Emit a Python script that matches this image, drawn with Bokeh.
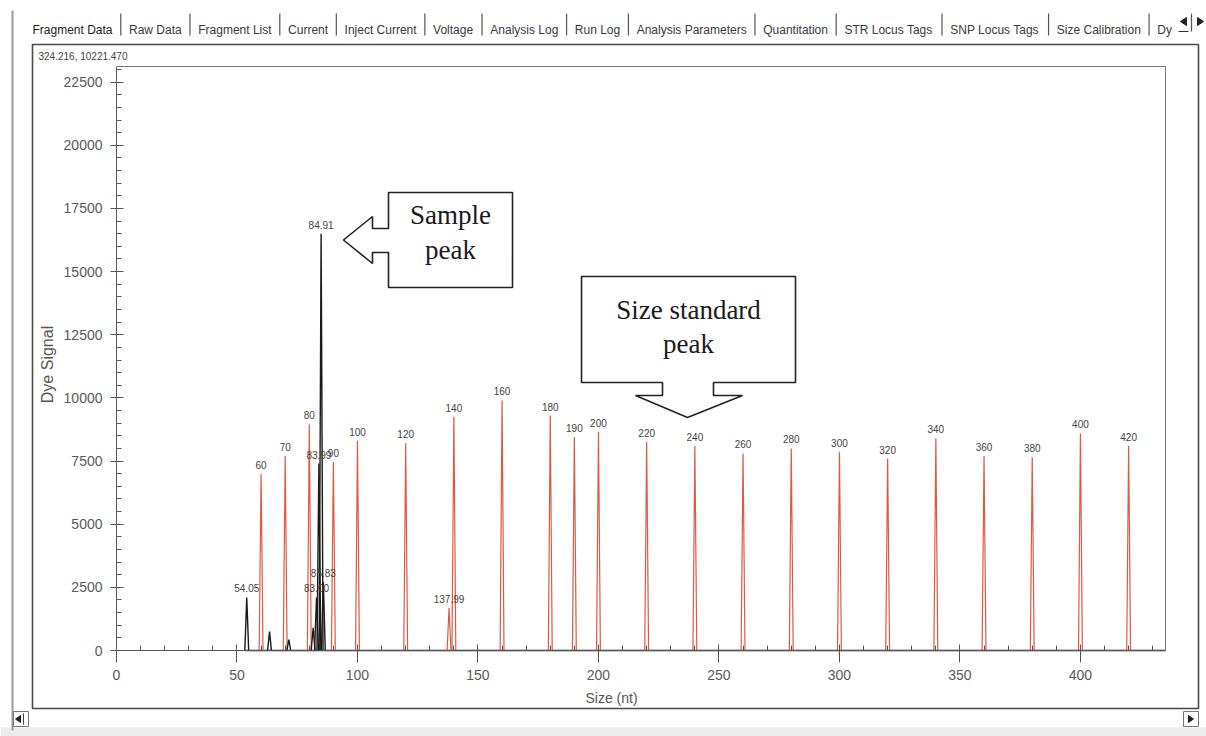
import math
from bokeh.plotting import figure
from bokeh.models import Range1d, Label, PolyAnnotation, FixedTicker
from bokeh.core.properties import value
from bokeh.embed import file_html
from bokeh.resources import INLINE

# ---- data -------------------------------------------------------------
# size-standard (red dye) peaks: fragment size (nt) and signal height
std_sizes = [60, 70, 80, 90, 100, 120, 140, 160, 180, 190, 200, 220,
             240, 260, 280, 300, 320, 340, 360, 380, 400, 420]
std_heights = [7000, 7700, 8950, 7450, 8300, 8200, 9250, 9900, 9300, 8450, 8650, 8250,
               8100, 7800, 8000, 7850, 7600, 8400, 7700, 7650, 8600, 8100]
std_labels = ["60", "70", "80", "90", "100", "120", "140", "160", "180", "190", "200", "220",
              "240", "260", "280", "300", "320", "340", "360", "380", "400", "420"]

# small extra peak in the red dye
extra_std_sizes = [137.99]
extra_std_heights = [1680]
extra_std_labels = ["137.99"]

# sample (black dye) peaks
sample_sizes = [54.05, 63.5, 71.5, 81.6, 83.00, 83.99, 84.91, 85.83]
sample_heights = [2100, 750, 430, 900, 2100, 7400, 16500, 2700]
sample_labels = ["54.05", "", "", "", "83.00", "83.99", "84.91", "85.83"]
trace_start = 53.5

x_ticks = [0, 50, 100, 150, 200, 250, 300, 350, 400]
y_ticks = [0, 2500, 5000, 7500, 10000, 12500, 15000, 17500, 20000, 22500]

cursor_readout = "324.216, 10221.470"
tab_names = ["Fragment Data", "Raw Data", "Fragment List", "Current", "Inject Current",
             "Voltage", "Analysis Log", "Run Log", "Analysis Parameters", "Quantitation",
             "STR Locus Tags", "SNP Locus Tags", "Size Calibration", "Dy"]

# ---- layout constants (pixels) ---------------------------------------
W, H = 1206, 736
FL, FR, FT, FB = 116, 1165, 66, 650          # data area edges on the canvas
X_END = 435.3                                # size at the right edge of the data area
Y_END = 23120.0                              # signal at the top of the data area
PEAK_HW = 0.8                                # half width of a drawn peak, nt

RED = "#dd5a48"
BLACK = "#1a1a1a"
AXIS = "#555555"
SANS = "Liberation Sans"


def sx(px):
    return (px - FL) / (FR - FL) * X_END


def sy(py):
    return (FB - py) / (FB - FT) * Y_END


# the canvas is one frame; the axes sit at fixed data locations inside it
p = figure(width=W, height=H, output_backend="svg", toolbar_location=None,
           x_range=Range1d(sx(0), sx(W)), y_range=Range1d(sy(H), sy(0)),
           min_border=0, min_border_left=0, min_border_right=0,
           min_border_top=0, min_border_bottom=0)
p.background_fill_color = "white"
p.border_fill_color = "white"
p.outline_line_color = None
p.xgrid.visible = False
p.ygrid.visible = False

# axes
p.xaxis.fixed_location = 0
p.yaxis.fixed_location = 0
p.xaxis.bounds = (0, X_END)
p.yaxis.bounds = (0, Y_END)
p.xaxis.ticker = FixedTicker(ticks=x_ticks, minor_ticks=[v for v in range(10, 440, 10)])
p.yaxis.ticker = FixedTicker(ticks=y_ticks, minor_ticks=[v for v in range(500, 23100, 500)])
for ax in (p.xaxis, p.yaxis):
    ax.axis_line_color = AXIS
    ax.axis_line_width = 1
    ax.major_tick_line_color = AXIS
    ax.minor_tick_line_color = AXIS
    ax.major_label_text_font = SANS
    ax.major_label_text_font_size = "14px"
    ax.major_label_text_color = "#5a5a5a"
p.xaxis.major_tick_in = 6
p.xaxis.major_tick_out = 12
p.xaxis.minor_tick_in = 5
p.xaxis.minor_tick_out = 0
p.xaxis.major_label_standoff = 7
p.yaxis.major_tick_in = 7
p.yaxis.major_tick_out = 6
p.yaxis.minor_tick_in = 5
p.yaxis.minor_tick_out = 0
p.yaxis.major_label_standoff = 8


def seg(x0, y0, x1, y1, color="#666666", width=1.0):
    p.add_layout(PolyAnnotation(xs=[sx(x0), sx(x1)], ys=[sy(y0), sy(y1)],
                                fill_alpha=0, line_color=color, line_alpha=1.0,
                                line_width=width))


def rect(l, t, r, b, fill=None, line=None, width=1.0):
    p.add_layout(PolyAnnotation(xs=[sx(l), sx(r), sx(r), sx(l)],
                                ys=[sy(t), sy(t), sy(b), sy(b)],
                                fill_color=fill or "white", fill_alpha=1.0 if fill else 0.0,
                                line_color=line or "white", line_alpha=1.0 if line else 0.0,
                                line_width=width))


# data-area border (top and right edges)
seg(FL, FT, FR, FT, color="#777777", width=1)
seg(FR, FT, FR, FB, color="#777777", width=1)

# ---- traces ------------------------------------------------------------
p.line([trace_start, X_END], [0, 0], line_color=RED, line_width=1)
p.line([trace_start, X_END], [0, 0], line_color=BLACK, line_width=1.5)


def peak_shapes(sizes, heights):
    xs = [[s - PEAK_HW, s, s + PEAK_HW] for s in sizes]
    ys = [[0, h, 0] for h in heights]
    return xs, ys


rx, ry = peak_shapes(std_sizes + extra_std_sizes, std_heights + extra_std_heights)
p.multi_line(rx, ry, line_color=RED, line_width=1.2)
bx, by = peak_shapes(sample_sizes, sample_heights)
p.multi_line(bx, by, line_color=BLACK, line_width=1.4)

# peak labels
lab_x = std_sizes + extra_std_sizes + sample_sizes
lab_y = std_heights + extra_std_heights + sample_heights
lab_t = std_labels + extra_std_labels + sample_labels
p.text(lab_x, lab_y, text=lab_t, text_align="center", text_baseline="bottom",
       y_offset=-5, text_font=value(SANS), text_font_size="10px", text_color="#444444")

# ---- callouts --------------------------------------------------------
sample_box = [(388, 192), (512, 192), (512, 287), (388, 287), (388, 252), (372, 252),
              (372, 263), (343, 239.5), (372, 216), (372, 228), (388, 228)]
std_box = [(581, 276), (795, 276), (795, 382), (713, 382), (713, 395), (742, 395),
           (687, 417), (635, 395), (662, 395), (662, 382), (581, 382)]
for shape in (sample_box, std_box):
    p.add_layout(PolyAnnotation(xs=[sx(a) for a, _ in shape], ys=[sy(b) for _, b in shape],
                                fill_color="white", fill_alpha=1.0,
                                line_color="#222222", line_alpha=1.0, line_width=1.6))

for txt, cx, cy in [("Sample", 450, 214), ("peak", 450, 249),
                    ("Size standard", 688, 309), ("peak", 688, 343)]:
    p.add_layout(Label(x=sx(cx), y=sy(cy), text=txt, text_align="center",
                       text_baseline="middle", text_font="Liberation Serif",
                       text_font_size="27px", text_color="#1a1a1a"))

# ---- axis titles and readout -------------------------------------------
p.add_layout(Label(x=sx(47), y=sy(364), text="Dye Signal", angle=math.pi / 2,
                   text_align="center", text_baseline="middle", text_font=SANS,
                   text_font_size="16px", text_color="#555555"))
p.add_layout(Label(x=sx(611), y=sy(697), text="Size (nt)", text_align="center",
                   text_baseline="middle", text_font=SANS, text_font_size="14px",
                   text_color="#555555"))
p.add_layout(Label(x=sx(38), y=sy(56), text=cursor_readout, text_align="left",
                   text_baseline="middle", text_font=SANS, text_font_size="10px",
                   text_color="#444444"))

# ---- window chrome ---------------------------------------------------
rect(0, 727, W, H, fill="#ececec")
rect(32, 44, 1198, 708, line="#4a4a4a", width=1.6)
seg(12, 10, 12, 730, color="#9a9a9a", width=2)

# tab strip: names placed with Arial advance widths
ADV = {' ': 278, 'a': 556, 'b': 556, 'c': 500, 'd': 556, 'e': 556, 'f': 278, 'g': 556,
       'h': 556, 'i': 222, 'j': 222, 'k': 500, 'l': 222, 'm': 833, 'n': 556, 'o': 556,
       'p': 556, 'q': 556, 'r': 333, 's': 500, 't': 278, 'u': 556, 'v': 500, 'w': 722,
       'x': 500, 'y': 500, 'z': 500, 'A': 667, 'C': 722, 'D': 722, 'F': 611, 'I': 278,
       'L': 556, 'N': 722, 'P': 667, 'Q': 778, 'R': 722, 'S': 667, 'T': 611, 'V': 667}
TAB_FS = 12
TAB_GAP = 16.5
cur = 32
for i, name in enumerate(tab_names):
    p.add_layout(Label(x=sx(cur), y=sy(29.5), text=name, text_align="left",
                       text_baseline="alphabetic", text_font=SANS,
                       text_font_size=f"{TAB_FS}px",
                       text_color="#222222" if i == 0 else "#3a3a3a"))
    cur += sum(ADV.get(c, 556) for c in name) / 1000 * TAB_FS
    if i < len(tab_names) - 1:
        seg(cur + TAB_GAP / 2, 13, cur + TAB_GAP / 2, 35, color="#555555", width=1.2)
        cur += TAB_GAP

# tab scroll arrows
p.add_layout(PolyAnnotation(xs=[sx(1180), sx(1186), sx(1186)], ys=[sy(21), sy(17), sy(25)],
                            fill_color="#222222", fill_alpha=1.0,
                            line_color="#222222", line_alpha=1.0))
seg(1191, 13, 1191, 31, color="#555555", width=1.2)
p.add_layout(PolyAnnotation(xs=[sx(1197), sx(1203), sx(1197)], ys=[sy(17), sy(21), sy(25)],
                            fill_color="#222222", fill_alpha=1.0,
                            line_color="#222222", line_alpha=1.0))
seg(1178, 31, 1188, 31, color="#333333", width=1)

# horizontal scroll bar buttons
rect(13, 711, 28, 726, line="#777777", width=1)
p.add_layout(PolyAnnotation(xs=[sx(15), sx(20), sx(20)], ys=[sy(718.5), sy(715), sy(722)],
                            fill_color="#222222", fill_alpha=1.0,
                            line_color="#222222", line_alpha=1.0))
seg(23, 713, 23, 724, color="#444444", width=1)
rect(1183, 711, 1198, 726, line="#777777", width=1)
p.add_layout(PolyAnnotation(xs=[sx(1188), sx(1193), sx(1188)], ys=[sy(715), sy(718.5), sy(722)],
                            fill_color="#222222", fill_alpha=1.0,
                            line_color="#222222", line_alpha=1.0))

open("out.html", "w").write(file_html(p, INLINE))
